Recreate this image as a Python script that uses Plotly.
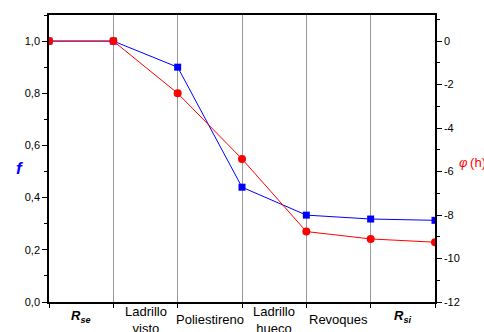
import plotly.graph_objects as go

positions = [0, 1, 2, 3, 4, 5, 6]
f_values = [1.0, 1.0, 0.90, 0.44, 0.333, 0.318, 0.313]
phi_values = [0.0, 0.0, -2.4, -5.42, -8.76, -9.1, -9.25]

layer_centers = [0.5, 1.5, 2.5, 3.5, 4.5, 5.5]
layer_labels = ["<b><i>R</i></b><sub><b><i>se</i></b></sub>", "Ladrillo<br>visto", "Poliestireno",
                "Ladrillo<br>hueco", "Revoques", "<b><i>R</i></b><sub><b><i>si</i></b></sub>"]

left_ticks = [0.0, 0.2, 0.4, 0.6, 0.8, 1.0]
right_ticks = [0, -2, -4, -6, -8, -10, -12]
right_ticktext = ["0", "-2", "-4", "-6", "-8", "-10", "-12"]

FONT = "Liberation Sans, Arial, sans-serif"

fig = go.Figure()
fig.add_trace(go.Scatter(
    x=positions, y=f_values, mode="lines+markers",
    line=dict(color="#0000ff", width=1),
    marker=dict(symbol="square", size=7, color="#0000ff"),
    yaxis="y", showlegend=False))
fig.add_trace(go.Scatter(
    x=positions, y=phi_values, mode="lines+markers",
    line=dict(color="#ff0000", width=1),
    marker=dict(symbol="circle", size=8, color="#ff0000"),
    yaxis="y2", showlegend=False))

annotations = []
for xc, lab in zip(layer_centers, layer_labels):
    is_symbol = lab.startswith("<b>")
    annotations.append(dict(x=xc, y=-0.05 if is_symbol else -0.062, xref="x", yref="paper",
                            text=lab, showarrow=False, yanchor="middle", xanchor="center",
                            font=dict(family=FONT, size=13, color="black")))
annotations.append(dict(x=-0.091, y=0.465, xref="paper", yref="paper",
                        text="<b><i>f</i></b>", showarrow=False,
                        font=dict(family=FONT, size=17, color="#0000ff")))
annotations.append(dict(x=1.057, y=0.485, xref="paper", yref="paper",
                        text="<i>φ</i>\u2009(h)", showarrow=False, xanchor="left",
                        font=dict(family=FONT, size=13, color="#ff0000")))

fig.update_layout(
    template="none",
    width=484, height=332,
    margin=dict(l=49, r=49, t=15, b=30, autoexpand=False),
    paper_bgcolor="white", plot_bgcolor="white",
    separators=",.",
    font=dict(family=FONT, size=11, color="black"),
    xaxis=dict(range=[0, 6], tickvals=positions, ticktext=[""] * len(positions),
               ticks="outside", ticklen=4, tickcolor="black", automargin=False,
               showline=True, linecolor="black", linewidth=1.5, mirror=True,
               showgrid=True, gridcolor="#999999", gridwidth=1, zeroline=False),
    yaxis=dict(range=[0, 1.1], tickvals=left_ticks, tickformat=".1f",
               ticks="outside", ticklen=5, tickcolor="black", automargin=False,
               minor=dict(dtick=0.1, ticks="outside", ticklen=3, tickcolor="black", showgrid=False),
               showline=True, linecolor="black", linewidth=1.5,
               showgrid=False, zeroline=False),
    yaxis2=dict(range=[-12, 1.2], overlaying="y", side="right",
                tickvals=right_ticks, ticktext=right_ticktext, automargin=False,
                ticks="outside", ticklen=5, tickcolor="black",
                minor=dict(dtick=1, ticks="outside", ticklen=3, tickcolor="black", showgrid=False),
                showline=True, linecolor="black", linewidth=1.5,
                showgrid=False, zeroline=False),
    annotations=annotations,
)

# remove the page's default body margin / scrollbars so the figure fills the window exactly
fig.write_html("out.html", config={"displayModeBar": False},
               post_script="document.body.style.margin='0';document.body.style.overflow='hidden';")
